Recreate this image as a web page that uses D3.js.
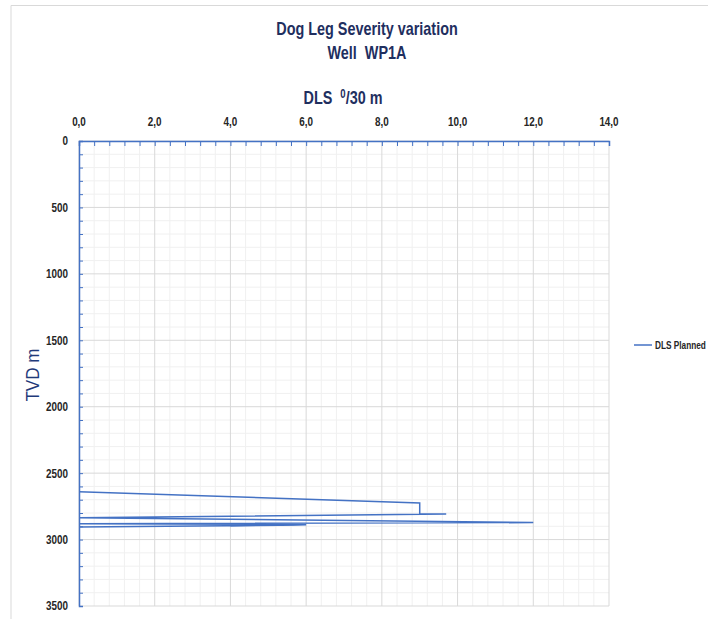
<!DOCTYPE html>
<html><head><meta charset="utf-8">
<script src="https://cdn.jsdelivr.net/npm/d3@7"></script>
<style>
body{margin:0;background:#fff;}
text{font-family:"Liberation Sans",Arial,sans-serif;}
</style></head>
<body><svg id="c" width="708" height="619"></svg>
<script>
// Data: DLS planned (deg/30 m) vs TVD (m)
const tvd = [2640, 2725, 2805, 2808, 2835, 2872, 2880, 2886, 2897, 2890, 2905];
const dls = [0.0, 9.0, 9.0, 9.7, 0.0, 12.0, 0.0, 6.0, 4.0, 6.0, 0.0];
const xTicks = [0, 2, 4, 6, 8, 10, 12, 14];
const yTicks = [0, 500, 1000, 1500, 2000, 2500, 3000, 3500];
const seriesName = "DLS Planned";

const svg = d3.select("#c");
const L = 79, R = 609, T = 141, B = 606;
const x = d3.scaleLinear().domain([0, 14]).range([L, R]);
const y = d3.scaleLinear().domain([0, 3500]).range([T, B]);
const blue = "#4472C4", navy = "#1F2F5F";

// horizontally condense text around its anchor point (emulates a narrow font)
function condense(sel, f) {
  sel.each(function() {
    const t = d3.select(this);
    const px = +t.attr("x") || 0, py = +t.attr("y") || 0;
    t.attr("transform", `translate(${px},${py}) scale(${f},1) translate(${-px},${-py})`);
  });
  return sel;
}

// outer frame
svg.append("path").attr("d", `M11,619 V5.5 H708`).attr("fill", "none").attr("stroke", "#d9d9d9").attr("stroke-width", 1);

// minor grid
const xMinor = d3.range(0, 14.001, 0.4).filter(v => Math.abs(v/2 - Math.round(v/2)) > 1e-6);
const yMinor = d3.range(0, 3501, 100).filter(v => v % 500 !== 0);
svg.append("g").selectAll("line").data(xMinor).join("line")
  .attr("x1", d => x(d)).attr("x2", d => x(d)).attr("y1", T).attr("y2", B)
  .attr("stroke", "#f0f0f0");
svg.append("g").selectAll("line").data(yMinor).join("line")
  .attr("y1", d => y(d)).attr("y2", d => y(d)).attr("x1", L).attr("x2", R)
  .attr("stroke", "#f0f0f0");
// major grid
svg.append("g").selectAll("line").data(xTicks).join("line")
  .attr("x1", d => x(d)).attr("x2", d => x(d)).attr("y1", T).attr("y2", B)
  .attr("stroke", "#d9d9d9");
svg.append("g").selectAll("line").data(yTicks).join("line")
  .attr("y1", d => y(d)).attr("y2", d => y(d)).attr("x1", L).attr("x2", R)
  .attr("stroke", "#d9d9d9");

// axes
const fmt = d => d3.format(".1f")(d).replace(".", ",");
const gx = svg.append("g").attr("transform", `translate(0,${T})`)
  .call(d3.axisTop(x).tickValues(d3.range(0, 14.001, 0.4)).tickSize(-5).tickFormat(() => ""));
gx.select(".domain").attr("stroke", blue).attr("stroke-width", 1.5);
gx.selectAll(".tick line").attr("stroke", blue);
condense(svg.append("g").selectAll("text").data(xTicks).join("text")
  .attr("x", d => x(d)).attr("y", 126).attr("text-anchor", "middle")
  .attr("font-size", 13).attr("font-weight", "bold").attr("fill", "#262626").text(fmt), 0.76);

const gy = svg.append("g").attr("transform", `translate(${L},0)`)
  .call(d3.axisLeft(y).tickValues(d3.range(0, 3501, 100)).tickSize(-4).tickFormat(() => ""));
gy.select(".domain").attr("stroke", blue).attr("stroke-width", 1.5);
gy.selectAll(".tick line").attr("stroke", blue);
condense(svg.append("g").selectAll("text").data(yTicks).join("text")
  .attr("x", 68).attr("y", d => y(d) + 4.5).attr("text-anchor", "end")
  .attr("font-size", 13).attr("font-weight", "bold").attr("fill", "#262626").text(d => d), 0.76);

// data line
const line = d3.line().x((d, i) => x(dls[i])).y((d, i) => y(tvd[i]));
svg.append("path").datum(tvd).attr("d", line)
  .attr("fill", "none").attr("stroke", blue).attr("stroke-width", 1.5).attr("stroke-linejoin", "miter");

// titles
const t1 = svg.append("text").attr("x", 367).attr("y", 35).attr("text-anchor", "middle")
  .attr("font-size", 18).attr("font-weight", "bold").attr("fill", navy).text("Dog Leg Severity variation");
const t2 = svg.append("text").attr("x", 367).attr("y", 59).attr("text-anchor", "middle")
  .attr("font-size", 18).attr("font-weight", "bold").attr("fill", navy).attr("xml:space", "preserve").text("Well  WP1A");
const xl = svg.append("text").attr("x", 343).attr("y", 104).attr("text-anchor", "middle")
  .attr("font-size", 18).attr("font-weight", "bold").attr("fill", navy).attr("xml:space", "preserve");
xl.append("tspan").text("DLS  ");
xl.append("tspan").attr("font-size", 12).attr("dy", -6).text("0");
xl.append("tspan").attr("dy", 6).text("/30 m");
condense(t1, 0.8); condense(t2, 0.8); condense(xl, 0.8);

svg.append("text").attr("transform", "translate(39,375) rotate(-90) scale(0.9,1)").attr("text-anchor", "middle")
  .attr("font-size", 19).attr("fill", "#1F3A7A").text("TVD m");

// legend
svg.append("line").attr("x1", 634).attr("x2", 652).attr("y1", 345).attr("y2", 345)
  .attr("stroke", blue).attr("stroke-width", 1.5);
condense(svg.append("text").attr("x", 655).attr("y", 349).attr("font-size", 11).attr("font-weight", "bold")
  .attr("fill", "#262626").text(seriesName), 0.75);
</script></body></html>
